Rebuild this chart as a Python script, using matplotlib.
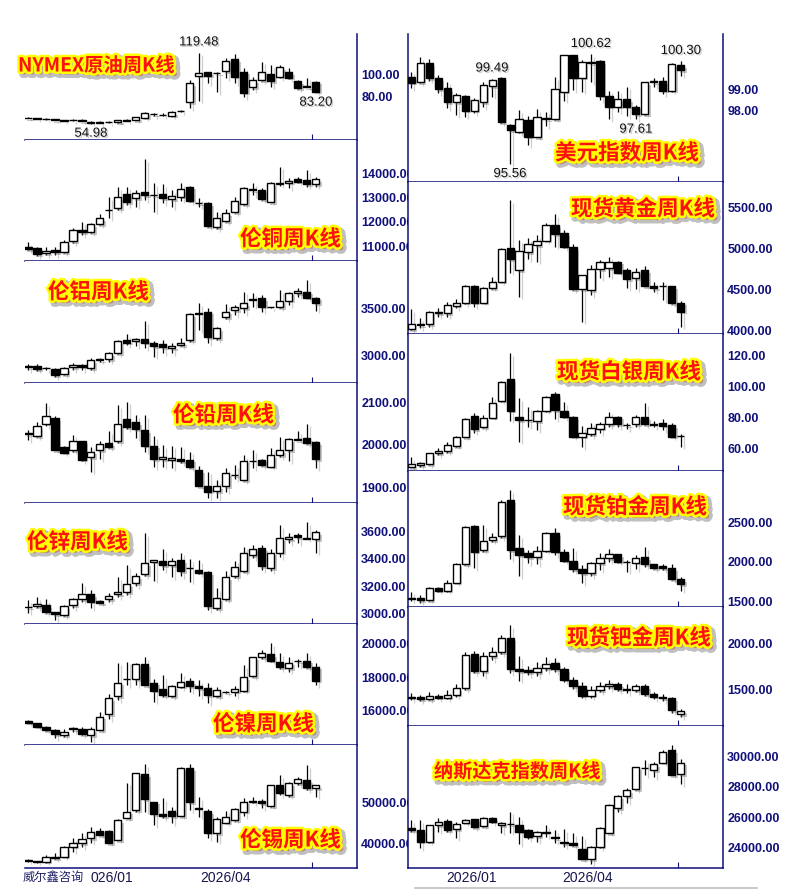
import matplotlib
matplotlib.use('Agg')
import matplotlib.pyplot as plt
import matplotlib.patheffects as pe
from matplotlib.lines import Line2D
from matplotlib.transforms import blended_transform_factory

plt.rcParams['font.family'] = ['Noto Sans CJK SC', 'DejaVu Sans']

W, H = 809, 889
NAVY = '#10107a'

# weekly candles, each row is (open, high, low, close)
oil = [
    (60.3, 61.2, 59.6, 60.0), (60.0, 60.4, 59.2, 59.5), (59.2, 59.8, 58.5, 58.9),
    (58.8, 59.3, 57.9, 58.2), (58.0, 58.6, 57.2, 57.6), (57.8, 58.9, 57.4, 58.2),
    (58.4, 58.8, 57.0, 57.3), (56.2, 57.5, 54.98, 55.8), (55.8, 57.2, 55.2, 56.1),
    (56.2, 57.4, 55.6, 56.5), (56.3, 58.6, 55.9, 58.0), (57.8, 59.2, 57.2, 57.6),
    (58.0, 60.8, 57.8, 60.5), (60.4, 65.8, 59.8, 65.0), (64.0, 65.0, 61.5, 63.2),
    (62.6, 64.2, 61.8, 62.3), (62.2, 66.0, 61.5, 65.2), (66.2, 67.6, 65.2, 66.4),
    (74.2, 94.5, 68.8, 91.5), (98.5, 119.48, 75.8, 100.5), (101.5, 102.1, 91.5, 98.5),
    (101.2, 101.5, 83.9, 101.0), (102.7, 114.2, 96.1, 112.1), (113.3, 117.9, 91.5, 97.6),
    (102.1, 105.8, 78.8, 83.0), (87.9, 97.6, 85.5, 94.5), (94.5, 111.2, 93.9, 102.1),
    (100.0, 108.2, 88.5, 93.9), (97.6, 108.2, 96.1, 106.1), (101.8, 105.2, 95.2, 96.7),
    (93.9, 94.5, 86.1, 87.0), (88.0, 96.7, 87.9, 89.1), (93.0, 93.9, 83.2, 84.0),
]
copper = [
    (10973, 11179, 10835, 10863), (10904, 10945, 10588, 10656), (10698, 10945, 10629, 10800),
    (10835, 10945, 10629, 10766), (10739, 11248, 10698, 11179), (11207, 11730, 11110, 11661),
    (11661, 12005, 11454, 11592), (11565, 11936, 11523, 11895), (11909, 12321, 11867, 12142),
    (12486, 13009, 12142, 12500), (12555, 13422, 12486, 13009), (13133, 13450, 12693, 12830),
    (12968, 13312, 12624, 13202), (13216, 14578, 12899, 13106), (13106, 13587, 12418, 13120),
    (13147, 13546, 12762, 12968), (12927, 13312, 12596, 13064), (13037, 13587, 12872, 13339),
    (13450, 13477, 12830, 12872), (12790, 12968, 12624, 12775), (12762, 12830, 11771, 11826),
    (11771, 12418, 11689, 12142), (12046, 12514, 12005, 12349), (12390, 13009, 12349, 12872),
    (12720, 13450, 12693, 13381), (13312, 13587, 13106, 13360), (13312, 13381, 12899, 12927),
    (12830, 13656, 12803, 13587), (13580, 14275, 13491, 13600), (13615, 13794, 13381, 13698),
    (13752, 13835, 13615, 13656), (13725, 14138, 13450, 13546), (13546, 13862, 13450, 13752),
]
alu = [
    (2885, 2910, 2853, 2890), (2895, 2910, 2846, 2860), (2872, 2880, 2853, 2868),
    (2860, 2871, 2776, 2801), (2811, 2888, 2801, 2871), (2885, 2923, 2853, 2905),
    (2905, 2913, 2853, 2888), (2871, 2975, 2853, 2958), (2958, 2975, 2940, 2965),
    (2965, 3045, 2940, 3028), (3028, 3168, 3017, 3157), (3168, 3230, 3115, 3140),
    (3160, 3185, 3105, 3175), (3175, 3364, 3080, 3140), (3133, 3161, 2993, 3105),
    (3122, 3168, 3028, 3091), (3080, 3133, 3028, 3105), (3115, 3185, 3105, 3140),
    (3168, 3455, 3150, 3437), (3445, 3552, 3273, 3450), (3465, 3500, 3133, 3196),
    (3185, 3308, 3168, 3290), (3406, 3542, 3385, 3465), (3483, 3535, 3430, 3517),
    (3500, 3675, 3448, 3552), (3592, 3657, 3517, 3595), (3605, 3640, 3465, 3517),
    (3510, 3517, 3500, 3512), (3510, 3692, 3505, 3580), (3580, 3675, 3535, 3664),
    (3657, 3710, 3622, 3685), (3675, 3797, 3605, 3612), (3612, 3622, 3476, 3552),
]
lead = [
    (2025, 2035, 2012, 2027), (2021, 2055, 2018, 2045), (2050, 2098, 2045, 2069),
    (2063, 2067, 1987, 1988), (1996, 1998, 1980, 1982), (1988, 2024, 1984, 2010),
    (2009, 2010, 1962, 1965), (1971, 1996, 1937, 1984), (1988, 2008, 1966, 2002),
    (2004, 2032, 1992, 1994), (2009, 2094, 2004, 2050), (2061, 2102, 2037, 2042),
    (2053, 2071, 2016, 2037), (2035, 2071, 1984, 1998), (1998, 2020, 1947, 1966),
    (1966, 2000, 1949, 1972), (1965, 1998, 1945, 1969), (1967, 1996, 1957, 1962),
    (1965, 1984, 1945, 1947), (1941, 1950, 1902, 1903), (1903, 1937, 1874, 1890),
    (1891, 1917, 1874, 1903), (1903, 1945, 1890, 1934), (1929, 1953, 1919, 1930),
    (1917, 1976, 1915, 1963), (1962, 1988, 1945, 1961), (1965, 1966, 1950, 1953),
    (1949, 1992, 1947, 1976), (1976, 2018, 1972, 1987), (1987, 2016, 1961, 2013),
    (2012, 2032, 2012, 2014), (2016, 2050, 2002, 2004), (2006, 2010, 1945, 1967),
]
zinc = [
    (3047, 3098, 3005, 3050), (3054, 3118, 3037, 3066), (3061, 3103, 3000, 3012),
    (3007, 3012, 2951, 2993), (2988, 3061, 2980, 3054), (3061, 3110, 3037, 3103),
    (3103, 3220, 3086, 3140), (3140, 3171, 3037, 3086), (3091, 3098, 3073, 3078),
    (3103, 3147, 3086, 3127), (3140, 3269, 3122, 3159), (3159, 3355, 3135, 3215),
    (3225, 3294, 3201, 3274), (3289, 3588, 3274, 3372), (3380, 3395, 3240, 3392),
    (3385, 3470, 3318, 3352), (3352, 3404, 3269, 3385), (3392, 3446, 3274, 3313),
    (3333, 3397, 3233, 3331), (3318, 3392, 3289, 3299), (3306, 3313, 3024, 3054),
    (3037, 3184, 3024, 3110), (3103, 3313, 3098, 3264), (3274, 3387, 3257, 3343),
    (3313, 3490, 3306, 3441), (3429, 3502, 3404, 3470), (3478, 3502, 3318, 3348),
    (3331, 3470, 3313, 3446), (3446, 3649, 3416, 3551), (3546, 3588, 3514, 3558),
    (3576, 3588, 3514, 3563), (3550, 3673, 3544, 3552), (3544, 3612, 3446, 3595),
]
nickel = [
    (15313, 15394, 15192, 15233), (15192, 15233, 14950, 14990), (14950, 15030, 14747, 14788),
    (14788, 14828, 14283, 14525), (14485, 14828, 14384, 14687), (14828, 14950, 14687, 14889),
    (14828, 14950, 14485, 14525), (14485, 14950, 14081, 14828), (14788, 15899, 14768, 15596),
    (15737, 16970, 15434, 16707), (16849, 18869, 16606, 17657), (17850, 18929, 17515, 17870),
    (17859, 18869, 17515, 18788), (18788, 19192, 17500, 17515), (17657, 17859, 16505, 17172),
    (17253, 18121, 16808, 16909), (16849, 17515, 16768, 17455), (17414, 18222, 17313, 17717),
    (17737, 17919, 17111, 17455), (17455, 17818, 16849, 17313), (17313, 17616, 16404, 16909),
    (16849, 17414, 16768, 17212), (17100, 17172, 17010, 17111), (17111, 17455, 16849, 17253),
    (17172, 18727, 17111, 17980), (18061, 19232, 17980, 19192), (19192, 19636, 19070, 19434),
    (19394, 20040, 18929, 18990), (18929, 19434, 18465, 18586), (18525, 19192, 18323, 18869),
    (18970, 19070, 18626, 18990), (18990, 19434, 18525, 18586), (18626, 18869, 17515, 17778),
]
tin = [
    (36000, 36320, 35760, 36080), (35840, 36000, 35520, 35760), (35760, 37360, 35520, 36800),
    (36960, 37760, 36320, 36560), (36960, 39520, 36800, 39200), (39360, 41360, 38160, 40160),
    (40160, 42560, 39200, 41120), (41360, 44000, 40320, 42960), (43200, 43760, 42160, 42160),
    (43200, 43360, 40160, 40160), (40960, 45920, 40960, 45760), (46160, 54720, 46160, 47760),
    (48160, 57120, 47760, 56960), (56720, 59200, 47760, 50720), (50160, 50160, 44560, 47200),
    (47200, 51040, 46160, 46720), (48000, 48960, 44960, 46720), (46720, 58560, 46720, 58160),
    (58160, 59200, 48160, 50000), (48560, 51200, 46560, 48480), (47920, 48320, 41360, 42720),
    (42560, 46400, 40560, 45920), (45120, 48000, 44960, 46400), (45760, 48560, 45600, 48320),
    (47760, 50960, 46720, 50160), (50160, 51200, 49760, 50400), (50320, 50720, 48560, 49760),
    (49120, 54200, 48960, 54160), (54160, 56560, 51760, 52320), (51760, 54960, 51360, 54560),
    (54560, 56160, 54160, 55520), (55360, 58960, 52960, 53360), (53360, 54200, 51360, 54160),
]
usd = [
    (99.58, 99.82, 99.05, 99.31), (99.32, 100.48, 99.28, 100.23), (100.2, 100.38, 99.4, 99.51),
    (99.51, 99.66, 98.82, 99.0), (99.05, 99.35, 98.12, 98.4), (98.4, 98.82, 97.82, 98.74),
    (98.69, 98.74, 97.74, 98.02), (98.02, 98.58, 97.89, 98.51), (98.4, 99.35, 98.17, 99.2),
    (99.15, 99.49, 98.66, 99.43), (99.54, 99.58, 97.43, 97.48), (97.35, 97.38, 95.56, 97.12),
    (97.05, 98.05, 96.97, 97.62), (97.58, 97.77, 96.43, 96.82), (96.79, 98.08, 96.78, 97.74),
    (97.64, 97.97, 97.32, 97.68), (97.62, 99.58, 97.6, 99.0), (98.89, 100.6, 98.48, 100.58),
    (100.58, 100.6, 98.97, 99.54), (99.54, 100.35, 98.89, 100.25), (100.22, 100.62, 99.32, 100.26),
    (100.31, 100.35, 98.51, 98.71), (98.71, 98.94, 97.62, 98.2), (98.2, 98.94, 97.97, 98.54),
    (98.54, 99.12, 97.77, 98.2), (98.2, 98.28, 97.61, 97.85), (97.85, 99.35, 97.83, 99.32),
    (99.33, 99.54, 99.12, 99.37), (99.38, 99.58, 98.79, 98.94), (98.94, 100.2, 98.89, 100.17),
    (100.12, 100.30, 99.63, 99.89),
]
gold = [
    (4016, 4260, 4000, 4081), (4065, 4146, 4024, 4077), (4077, 4240, 4045, 4228),
    (4228, 4268, 4167, 4207), (4207, 4350, 4167, 4309), (4301, 4382, 4268, 4337),
    (4337, 4553, 4321, 4541), (4541, 4553, 4289, 4337), (4337, 4533, 4337, 4512),
    (4512, 4646, 4510, 4593), (4593, 5000, 4590, 4988), (5008, 5589, 4703, 4866),
    (4736, 5102, 4411, 4967), (4951, 5122, 4870, 5049), (5041, 5163, 4837, 5093),
    (5093, 5313, 5090, 5285), (5285, 5419, 5020, 5175), (5183, 5224, 5000, 5020),
    (5012, 5053, 4495, 4500), (4500, 4680, 4106, 4675), (4492, 4797, 4431, 4748),
    (4748, 4862, 4634, 4829), (4756, 4898, 4654, 4837), (4837, 4840, 4695, 4703),
    (4736, 4756, 4512, 4622), (4634, 4756, 4500, 4715), (4736, 4784, 4538, 4541),
    (4541, 4593, 4472, 4512), (4535, 4593, 4370, 4541), (4541, 4545, 4321, 4329),
    (4337, 4362, 4045, 4228),
]
silver = [
    (47.9, 54.2, 47.8, 49.9), (49.2, 51.4, 48.1, 50.3), (49.7, 57.2, 49.2, 56.8),
    (56.8, 60.0, 55.7, 58.5), (58.3, 64.3, 57.2, 62.2), (61.5, 68.0, 61.1, 67.1),
    (67.1, 79.4, 67.0, 78.8), (80.9, 83.1, 70.1, 72.3), (73.6, 81.6, 73.0, 79.9),
    (79.9, 93.5, 79.8, 89.6), (90.9, 103.8, 90.2, 102.7), (104.7, 121.5, 77.9, 84.4),
    (80.1, 92.4, 64.3, 78.4), (78.3, 86.6, 74.0, 78.5), (77.7, 84.8, 71.9, 84.4),
    (84.4, 93.9, 83.7, 93.5), (95.0, 96.3, 78.8, 84.8), (84.4, 89.8, 79.4, 80.5),
    (80.1, 80.9, 67.4, 67.6), (67.6, 74.5, 60.7, 69.7), (69.3, 76.6, 68.0, 73.0),
    (72.7, 77.3, 69.7, 75.5), (75.5, 83.7, 74.0, 80.5), (80.5, 80.9, 73.6, 75.5),
    (75.3, 76.2, 72.3, 75.0), (75.5, 81.6, 74.0, 80.1), (80.1, 89.1, 75.1, 75.8),
    (75.6, 77.9, 73.6, 75.4), (76.2, 78.8, 71.9, 74.7), (75.1, 76.6, 67.4, 67.6),
    (67.9, 69.3, 61.1, 68.0),
]
platinum = [
    (1532, 1619, 1504, 1536), (1542, 1576, 1479, 1513), (1513, 1674, 1504, 1661),
    (1661, 1682, 1619, 1631), (1631, 1767, 1619, 1733), (1733, 1979, 1725, 1970),
    (1970, 2454, 1958, 2445), (2454, 2466, 1915, 2127), (2148, 2466, 2127, 2267),
    (2275, 2360, 2254, 2318), (2326, 2784, 2297, 2763), (2784, 2911, 2030, 2148),
    (2170, 2339, 1818, 2085), (2114, 2148, 1979, 2055), (2055, 2199, 1970, 2140),
    (2140, 2381, 2127, 2360), (2360, 2424, 2085, 2127), (2127, 2157, 2000, 2013),
    (2013, 2170, 1873, 1903), (1903, 1958, 1725, 1852), (1852, 2000, 1818, 1987),
    (1979, 2106, 1894, 2042), (2042, 2157, 2000, 2097), (2097, 2100, 1987, 2000),
    (1995, 2021, 1873, 1998), (1987, 2085, 1903, 2042), (2055, 2182, 1936, 1970),
    (1970, 1972, 1903, 1915), (1945, 1970, 1894, 1915), (1915, 1970, 1767, 1775),
    (1775, 1809, 1631, 1712),
]
palladium = [
    (1420, 1470, 1390, 1430), (1430, 1450, 1380, 1400), (1400, 1480, 1390, 1440),
    (1440, 1460, 1400, 1420), (1420, 1500, 1400, 1450), (1450, 1560, 1430, 1520),
    (1520, 1900, 1500, 1870), (1880, 1920, 1680, 1700), (1700, 1900, 1650, 1860),
    (1860, 1960, 1820, 1900), (1900, 2080, 1880, 2050), (2050, 2190, 1680, 1720),
    (1720, 1860, 1600, 1700), (1710, 1760, 1660, 1690), (1690, 1800, 1650, 1730),
    (1730, 1850, 1700, 1780), (1790, 1840, 1690, 1720), (1720, 1740, 1590, 1610),
    (1610, 1640, 1510, 1540), (1540, 1580, 1420, 1440), (1440, 1540, 1420, 1500),
    (1500, 1580, 1480, 1540), (1540, 1610, 1510, 1560), (1560, 1580, 1490, 1510),
    (1510, 1560, 1470, 1505), (1500, 1560, 1480, 1540), (1540, 1560, 1440, 1460),
    (1460, 1480, 1400, 1430), (1430, 1460, 1380, 1410), (1410, 1430, 1260, 1290),
    (1240, 1300, 1210, 1280),
]
nasdaq = [
    (25274, 25824, 25055, 25164), (25164, 25824, 23956, 24395), (24395, 25500, 24329, 25494),
    (25494, 25934, 25055, 25714), (25780, 25868, 25055, 25164), (25208, 25714, 24615, 25560),
    (25648, 25868, 25604, 25824), (25868, 25880, 25274, 25340), (25428, 26000, 25384, 25934),
    (25934, 26000, 25604, 25714), (25494, 25714, 24989, 25648), (25580, 26373, 24989, 25560),
    (25494, 26000, 24241, 25055), (25164, 25208, 24549, 24725), (24769, 25120, 24395, 25055),
    (24989, 25494, 24725, 25000), (24681, 25164, 24329, 24615), (24395, 25208, 24066, 24285),
    (24285, 24945, 24110, 24176), (23890, 24769, 23230, 23230), (23230, 24110, 22922, 24066),
    (24066, 25340, 23956, 25274), (24945, 26879, 24945, 26813), (26593, 27472, 26373, 27406),
    (27406, 27912, 26967, 27802), (27846, 29341, 27802, 29297), (29231, 29780, 28791, 29250),
    (29121, 29670, 28637, 29516), (29604, 30440, 29580, 30330), (30440, 30769, 28780, 28791),
    (28857, 29824, 28198, 29604),
]

# labelled extremes: (candle index, 'high' or 'low')
oil_marks = [(19, 'high'), (7, 'low'), (32, 'low')]
usd_marks = [(9, 'high'), (11, 'low'), (20, 'high'), (25, 'low'), (30, 'high')]

left_dates = ['026/01', '2026/04']
left_date_idx = [6.9, 19.1]
right_dates = ['2026/01', '2026/04']
right_date_idx = [3.9, 16.8]

fig = plt.figure(figsize=(W / 100, H / 100), dpi=100)
fig.patch.set_facecolor('white')

title_fx = [pe.Stroke(offset=(2.2, -2.2), linewidth=5, foreground='0.55', alpha=0.55),
            pe.Stroke(linewidth=3.6, foreground='#ffff00'), pe.Normal()]


def px_axes(x0, x1, y0, y1):
    return fig.add_axes([x0 / W, 1 - y1 / H, (x1 - x0) / W, (y1 - y0) / H])


def draw_candles(ax, rows):
    xs = list(range(len(rows)))
    opens = [r[0] for r in rows]
    highs = [r[1] for r in rows]
    lows = [r[2] for r in rows]
    closes = [r[3] for r in rows]
    wicks = ax.vlines(xs, lows, highs, colors='black', linewidth=0.9, zorder=2)
    wicks.set_path_effects([pe.SimpleLineShadow(offset=(2, -2), shadow_color='0.45', alpha=0.35),
                            pe.Normal()])
    bottoms = [min(o, c) for o, c in zip(opens, closes)]
    heights = [abs(c - o) for o, c in zip(opens, closes)]
    faces = ['black' if c < o else 'white' for o, c in zip(opens, closes)]
    bars = ax.bar(xs, heights, bottom=bottoms, width=0.78, color=faces,
                  edgecolor='black', linewidth=1.0, zorder=3)
    for b in bars:
        b.set_path_effects([pe.SimplePatchShadow(offset=(2, -2), shadow_rgbFace='0.45', alpha=0.4),
                            pe.Normal()])


def setup(ax, ylim, ticks, xlim, side, tick_idx):
    ax.set_xlim(*xlim)
    ax.set_ylim(*ylim)
    ax.set_facecolor('white')
    ax.yaxis.tick_right()
    ax.set_yticks(ticks)
    ax.set_yticklabels(['%.2f' % t for t in ticks])
    ax.tick_params(axis='y', length=0, pad=3, labelsize=9, labelcolor=NAVY)
    for lbl in ax.get_yticklabels():
        lbl.set_fontfamily('Liberation Sans')
        lbl.set_fontweight('bold')
    ax.set_xticks([tick_idx])
    ax.tick_params(axis='x', direction='in', length=4, color=NAVY, labelbottom=False)
    ax.spines['top'].set_visible(False)
    ax.spines['left'].set_visible(side == 'right')
    for s in ('left', 'right', 'bottom'):
        ax.spines[s].set_color(NAVY)
        ax.spines[s].set_linewidth(1.1)


def mark(ax, rows, marks):
    for i, kind in marks:
        o, h, l, c = rows[i]
        v = h if kind == 'high' else l
        ax.annotate('%.2f' % v, (i, v), xytext=(0, 3 if kind == 'high' else -3),
                    textcoords='offset points', ha='center',
                    va='bottom' if kind == 'high' else 'top',
                    fontsize=9.5, family='Liberation Sans', color='#111111', zorder=5,
                    path_effects=[pe.withSimplePatchShadow(offset=(1, -1), shadow_rgbFace='0.6', alpha=0.5)])


def title(text, x, y, size=15.5):
    fig.text(x / W, 1 - y / H, text, ha='left', va='center', fontsize=size,
             fontweight='bold', color='#ff1010', path_effects=title_fx, zorder=10)


# left column: data, (top, bottom) px, ylim, ticks, title, title pos, title size
left = [
    (oil, (34, 140), (40, 136.4), [80, 100], 'NYMEX原油周K线', (18, 66), 13.9),
    (copper, (140, 261), (10385, 15376), [11000, 12000, 13000, 14000], '伦铜周K线', (240, 239), 15.5),
    (alu, (261, 382.5), (2720, 3997), [3000, 3500], '伦铝周K线', (48, 292), 15.5),
    (lead, (382.5, 503), (1863, 2147), [1900, 2000, 2100], '伦铅周K线', (173, 415), 15.5),
    (zinc, (503, 624), (2922, 3811), [3000, 3200, 3400, 3600], '伦锌周K线', (27, 542), 15.5),
    (nickel, (624, 745), (13879, 21212), [16000, 18000, 20000], '伦镍周K线', (213, 724), 15.5),
    (tin, (745, 868), (34240, 63760), [40000, 50000], '伦锡周K线', (240, 840), 15.5),
]
right = [
    (usd, (34, 181.7), (94.74, 101.55), [98, 99], '美元指数周K线', (555, 153), 15.5),
    (gold, (181.7, 334), (3955, 5813), [4000, 4500, 5000, 5500], '现货黄金周K线', (571, 209), 15.5),
    (silver, (334, 471), (45.3, 134), [60, 80, 100, 120], '现货白银周K线', (557, 372), 15.5),
    (platinum, (471, 607), (1424, 3152), [1500, 2000, 2500], '现货铂金周K线', (563, 507), 15.5),
    (palladium, (607, 726), (1117, 2383), [1500, 2000], '现货钯金周K线', (567, 638), 15.5),
    (nasdaq, (726, 868), (22659, 32022), [24000, 26000, 28000, 30000], '纳斯达克指数周K线', (434, 772), 13.8),
]

left_axes = []
for rows, (y0, y1), ylim, ticks, name, (tx, ty), ts in left:
    ax = px_axes(25, 357, y0, y1)
    setup(ax, ylim, ticks, (-0.333, 36.56), 'left', 31.6)
    draw_candles(ax, rows)
    title(name, tx, ty, ts)
    left_axes.append(ax)

right_axes = []
for rows, (y0, y1), ylim, ticks, name, (tx, ty), ts in right:
    ax = px_axes(407.7, 723, y0, y1)
    setup(ax, ylim, ticks, (-0.37, 34.67), 'right', 29.65)
    draw_candles(ax, rows)
    title(name, tx, ty, ts)
    right_axes.append(ax)

mark(left_axes[0], oil, oil_marks)
mark(right_axes[0], usd, usd_marks)

# date labels under the bottom panels
for ax, labels, idx, h in ((left_axes[-1], left_dates, left_date_idx, 123),
                           (right_axes[-1], right_dates, right_date_idx, 142)):
    tr = blended_transform_factory(ax.transData, ax.transAxes)
    for lab, i in zip(labels, idx):
        ax.text(i, -10.5 / h, lab, transform=tr, ha='left', va='center', fontsize=10,
                family='Liberation Sans', color='#16164e', clip_on=False)

fig.text(23 / W, 1 - 877 / H, '威尔鑫咨询', ha='left', va='center', fontsize=8.8, color='#20206a')
fig.add_artist(Line2D([415 / W, 757 / W], [1 - 888 / H, 1 - 888 / H], color='0.75', linewidth=1.2))

fig.savefig('out.png', dpi=100, facecolor='white')
